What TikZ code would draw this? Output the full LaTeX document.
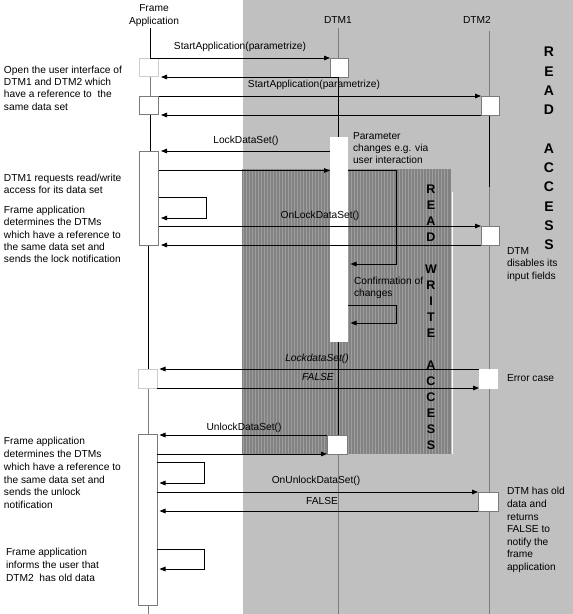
\documentclass[tikz,border=0pt]{standalone}
\usepackage{fontspec}
\setmainfont{Liberation Sans}
\usetikzlibrary{arrows.meta}
\definecolor{bggray}{HTML}{C0C0C0}
\definecolor{hatchdark}{HTML}{828282}
\definecolor{hatchlight}{HTML}{9E9E9E}
\definecolor{lightedge}{HTML}{CCCCCC}
\definecolor{midedge}{HTML}{7A7A7A}
\definecolor{lifegray}{HTML}{7C7C7C}
\begin{document}
\begin{tikzpicture}[x=1pt,y=-1pt,
  every node/.style={font=\fontsize{10.2}{12.4}\selectfont, inner sep=0pt, outer sep=0pt},
  note/.style={align=left, anchor=west},
  lbl/.style={anchor=center},
  actbox/.style={draw=#1, fill=white, line width=0.8pt, minimum width=19pt},
  msg/.style={line width=0.8pt, -{Triangle[length=6pt,width=4.6pt]}},
  back/.style={msg, shorten >=2.5pt},
  lifeline/.style={line width=0.8pt},
  bigletters/.style={font=\fontsize{14}{19.3}\selectfont\bfseries, align=center, anchor=center},
  rwletters/.style={font=\fontsize{12.5}{16}\selectfont\bfseries, align=center, anchor=center}
]
\useasboundingbox (0,0) rectangle (573,614);
% backgrounds
\fill[white] (0,0) rectangle (573,614);
\fill[bggray] (243,0) rectangle (573,614);
\fill[hatchdark] (242,169) rectangle (451,454);
\foreach \x in {243.5,246.5,...,450} \draw[hatchlight, line width=1pt] (\x,169) -- (\x,454);
\draw[white, line width=1pt] (452,192) -- (452,454);

% coordinates
\coordinate (faTop) at (150,28);
\coordinate (dtmOneTop) at (338,28);
\coordinate (dtmTwoTop) at (489,31);
\coordinate (faloop) at (206,0);
\coordinate (faloopb) at (204,0);
\coordinate (dtmloop) at (396,0);
\coordinate (yReq) at (0,170.5);
\coordinate (yFaL1a) at (0,197);
\coordinate (yFaL1b) at (0,218);
\coordinate (yPar) at (0,264);
\coordinate (yConfA) at (0,305);
\coordinate (yConfB) at (0,323);
\coordinate (yFaL2a) at (0,462);
\coordinate (yFaL2b) at (0,483);
\coordinate (yFaL3a) at (0,549);
\coordinate (yFaL3b) at (0,569);

% lifelines
\draw[lifeline] (150,28) -- (150,58);
\draw[lifeline, lifegray] (150,76) -- (150,96);
\draw[lifeline] (150,114) -- (150,151);
\draw[lifeline] (148,245) -- (148,369);
\draw[lifeline, lifegray] (148,388) -- (148,434);
\draw[lifeline, lifegray] (148,605) -- (148,614);
\draw[lifeline, lifegray] (dtmOneTop) -- (338,58);
\draw[lifeline] (338,77) -- (338,137);
\draw[lifeline] (338,342) -- (338,435);
\draw[lifeline, lifegray] (338,454) -- (338,614);
\draw[lifeline, lifegray] (dtmTwoTop) -- (489,96);
\draw[lifeline] (489,115) -- (489,187);
\draw[lifeline, lifegray] (489,187) -- (489,614);

% activation boxes
\node[actbox=lightedge, minimum height=18pt] (fa1) at (149,67) {};
\node[actbox=midedge, minimum height=18pt] (fa2) at (149,105) {};
\node[actbox=midedge, minimum height=94pt] (fa3) at (149,198) {};
\node[actbox=lightedge, minimum height=19pt] (fa4) at (147.5,378.5) {};
\node[actbox=midedge, minimum height=171pt] (fa5) at (147.5,519.5) {};
\node[actbox=midedge, minimum width=18pt, minimum height=19pt] (dtm1a) at (339,67.5) {};
\node[fill=white, minimum width=18pt, minimum height=205pt] (dtm1bar) at (339,239.5) {};
\node[actbox=midedge, minimum width=20pt, minimum height=19pt] (dtm1b) at (337,444.5) {};
\node[actbox=midedge, minimum width=18pt, minimum height=19pt] (dtm2a) at (490,105.5) {};
\node[actbox=midedge, minimum width=18pt, minimum height=19pt] (dtm2b) at (490,235.5) {};
\node[actbox=white, minimum width=18pt, minimum height=19pt] (dtm2c) at (488,378.5) {};
\node[actbox=midedge, minimum width=20pt, minimum height=19pt] (dtm2d) at (488,501.5) {};

% messages
\draw[msg] (faTop |- dtm1a.north) -- (dtm1a.north west);
\draw[back] (dtm1a.south) -- (dtm1a.south -| fa1.east);
\draw[msg] (fa2.north east) -- (fa2.north east -| dtm2a.west);
\draw[back] (dtm2a.south west) -- (dtm2a.south west -| fa2.east);
\draw[back] (dtm1bar.west |- fa3.north) -- (fa3.north east);
\draw[msg] (fa3.east |- yReq) -- (dtm1bar.west |- yReq);
\draw[back] (fa3.east |- yFaL1a) -- (faloop |- yFaL1a) -- (faloop |- yFaL1b) -- (fa3.east |- yFaL1b);
\draw[msg] (fa3.east |- dtm2b.north) -- (dtm2b.north west);
\draw[back] (dtm2b.south west) -- (dtm2b.south west -| fa3.east);
\draw[back] (dtm1bar.east |- yReq) -- (dtmloop |- yReq) -- (dtmloop |- yPar) -- (dtm1bar.east |- yPar);
\draw[back] (dtm1bar.east |- yConfA) -- (dtmloop |- yConfA) -- (dtmloop |- yConfB) -- (dtm1bar.east |- yConfB);
\draw[back] (dtm2c.north west) -- (dtm2c.north west -| fa4.east);
\draw[msg] (fa4.south east) -- (fa4.south east -| dtm2c.west);
\draw[back] (dtm1b.north west) -- (dtm1b.north west -| fa5.east);
\draw[msg] (fa5.east |- dtm1b.south) -- (dtm1b.south west);
\draw[back] (fa5.east |- yFaL2a) -- (faloopb |- yFaL2a) -- (faloopb |- yFaL2b) -- (fa5.east |- yFaL2b);
\draw[msg] (fa5.east |- dtm2d.north) -- (dtm2d.north west);
\draw[back] (dtm2d.south west) -- (dtm2d.south west -| fa5.east);
\draw[back] (fa5.east |- yFaL3a) -- (faloopb |- yFaL3a) -- (faloopb |- yFaL3b) -- (fa5.east |- yFaL3b);

% titles
\node[align=center] (fatitle) at (154,15.5) {Frame\\Application};
\node (dtm1title) at (338,19.5) {DTM1};
\node (dtm2title) at (477,19.5) {DTM2};

% message labels
\node[lbl] (l1) at (240,47) {StartApplication(parametrize)};
\node[lbl] (l2) at (314,84.5) {StartApplication(parametrize)};
\node[lbl] (l3) at (246,141) {LockDataSet()};
\node[lbl] (l4) at (320,216) {OnLockDataSet()};
\node[lbl, font=\fontsize{10.2}{12.4}\selectfont\itshape] (l5) at (317,358.5) {LockdataSet()};
\node[lbl, font=\fontsize{10.2}{12.4}\selectfont\itshape] (l6) at (318,377) {FALSE};
\node[lbl] (l7) at (244,428) {UnlockDataSet()};
\node[lbl] (l8) at (316,481) {OnUnlockDataSet()};
\node[lbl] (l9) at (322,501) {FALSE};

% notes
\node[note] (n1) at (4,88) {Open the user interface of\\DTM1 and DTM2 which\\have a reference to\ \ the\\same data set};
\node[note] (n2) at (4,184) {DTM1 requests read/write\\access for its data set};
\node[note] (n3) at (4,234.5) {Frame application\\determines the DTMs\\which have a reference to\\the same data set and\\sends the lock notification};
\node[note, font=\fontsize{10.2}{12.8}\selectfont] (n4) at (4,473) {Frame application\\determines the DTMs\\which have a reference to\\the same data set and\\sends the unlock\\notification};
\node[note, font=\fontsize{10.2}{12.8}\selectfont] (n5) at (6,565) {Frame application\\informs the user that\\DTM2\ \ has old data};
\node[note] (n6) at (353,148) {Parameter\\changes e.g. via\\user interaction};
\node[note] (n7) at (354,288) {Confirmation of\\changes};
\node[note] (n8) at (507,264.5) {DTM\\disables its\\input fields};
\node[note] (n9) at (507,378) {Error case};
\node[note, font=\fontsize{10.2}{12.6}\selectfont] (n10) at (507,530) {DTM has old\\data and\\returns\\FALSE to\\notify the\\frame\\application};

% access labels
\node[bigletters] (readaccess) at (549,148.5) {R\\E\\A\\D\\[19.3pt]A\\C\\C\\E\\S\\S};
\node[rwletters] (rwaccess) at (431,317) {R\\E\\A\\D\\[16pt]W\\R\\I\\T\\E\\[16pt]A\\C\\C\\E\\S\\S};
\end{tikzpicture}
\end{document}
